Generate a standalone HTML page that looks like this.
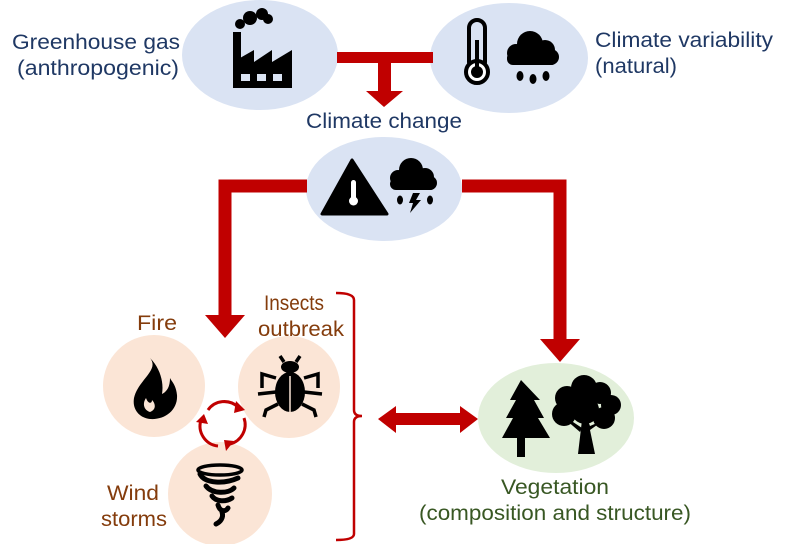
<!DOCTYPE html>
<html><head><meta charset="utf-8"><style>
html,body{margin:0;padding:0;background:#fff;}
svg{display:block;}
text{font-family:"Liberation Sans",Arial,sans-serif;font-size:21px;}
.b{fill:#1f3864}.r{fill:#843c0c}.g{fill:#385723}
</style></head><body>
<svg width="786" height="544" viewBox="0 0 786 544" xmlns="http://www.w3.org/2000/svg">
<ellipse cx="260" cy="55" rx="78" ry="55" fill="#dae3f3"/>
<ellipse cx="509" cy="58" rx="79" ry="55" fill="#dae3f3"/>
<ellipse cx="384" cy="189" rx="78" ry="52" fill="#dae3f3"/>
<rect x="337" y="52" width="96" height="11" fill="#c00000"/>
<rect x="378" y="62" width="13" height="30" fill="#c00000"/>
<polygon points="366,91 403,91 384,107" fill="#c00000"/>
<polyline points="307,186 225,186 225,316" fill="none" stroke="#c00000" stroke-width="13"/>
<polygon points="205,315 245,315 225,338" fill="#c00000"/>
<polyline points="462,186 560,186 560,340" fill="none" stroke="#c00000" stroke-width="13"/>
<polygon points="540,339 580,339 560,362" fill="#c00000"/>
<text x="12" y="49" class="b" textLength="168" lengthAdjust="spacingAndGlyphs">Greenhouse gas</text>
<text x="17" y="75" class="b" textLength="162" lengthAdjust="spacingAndGlyphs">(anthropogenic)</text>
<text x="595" y="47" class="b" textLength="178" lengthAdjust="spacingAndGlyphs">Climate variability</text>
<text x="595" y="73" class="b" textLength="82" lengthAdjust="spacingAndGlyphs">(natural)</text>
<text x="306" y="128" class="b" textLength="156" lengthAdjust="spacingAndGlyphs">Climate change</text>
<g fill="#000">
<rect x="233" y="32" width="8" height="56"/>
<polygon points="233,88 233,62 254,50 254,62 272,50 272,62 292,50 292,88"/>
<rect x="241" y="74" width="9" height="7" fill="#dae3f3"/>
<rect x="257" y="74" width="9" height="7" fill="#dae3f3"/>
<rect x="273" y="74" width="9" height="7" fill="#dae3f3"/>
<circle cx="240" cy="24" r="5"/><circle cx="250" cy="18" r="7"/><circle cx="262" cy="14" r="6"/><circle cx="268" cy="19" r="5"/>
</g>
<g>
<rect x="469" y="20" width="16" height="50" rx="8" fill="none" stroke="#000" stroke-width="4"/>
<circle cx="477" cy="72" r="11" fill="#fff" stroke="#000" stroke-width="4"/>
<circle cx="477" cy="72" r="6" fill="#000"/>
<rect x="475" y="40" width="4" height="30" fill="#000"/>
</g>
<g fill="#000">
<circle cx="516" cy="53" r="9"/><circle cx="530" cy="44" r="13"/><circle cx="545" cy="50" r="10"/><circle cx="551" cy="57" r="8"/>
<rect x="507" y="52" width="50" height="13" rx="6"/>
<ellipse cx="520" cy="76" rx="3.5" ry="5"/><ellipse cx="533" cy="79" rx="3.5" ry="5"/><ellipse cx="546" cy="76" rx="3.5" ry="5"/>
</g>
<polygon points="352,160 322,214 387,214" fill="#000" stroke="#000" stroke-width="3" stroke-linejoin="round"/>
<rect x="351" y="180" width="5" height="20" rx="2.5" fill="#fff"/>
<circle cx="353.5" cy="201" r="4.5" fill="#fff"/>
<g fill="#000">
<circle cx="398" cy="178" r="8"/><circle cx="411" cy="170" r="12"/><circle cx="425" cy="177" r="9"/><circle cx="430" cy="183" r="7"/>
<rect x="390" y="178" width="46" height="12" rx="6"/>
<ellipse cx="400" cy="200" rx="3" ry="4.5"/><ellipse cx="430" cy="200" rx="3" ry="4.5"/>
<polygon points="413,193 420,193 416,200 421,200 410,213 413,203 409,203"/>
</g>
<circle cx="154" cy="386" r="51" fill="#fbe5d6"/>
<circle cx="289" cy="387" r="51" fill="#fbe5d6"/>
<circle cx="220" cy="494" r="52" fill="#fbe5d6"/>
<path d="M150,358 C160,370 138,380 134,398 C132,410 140,418 150,419 C165,420 178,410 177,395 C176,385 172,382 170,378 C170,388 166,392 162,394 C164,382 160,368 150,358 Z M150,412 C144,410 142,404 146,398 C148,404 152,404 152,400 C156,404 156,410 150,412 Z" fill="#000"/>
<g fill="#000" stroke="#000">
<ellipse cx="290" cy="392" rx="15" ry="20" stroke="none"/>
<ellipse cx="290" cy="367" rx="9" ry="6" stroke="none"/>
<path d="M284,362 L280,356 M296,362 L300,356 M276,378 L262,374 L262,388 M304,378 L318,374 L318,388 M276,392 L258,394 M304,392 L322,394 M278,404 L266,410 L264,417 M302,404 L314,410 L316,417" fill="none" stroke-width="3.5"/>
<line x1="290" y1="376" x2="290" y2="412" stroke="#fbe5d6" stroke-width="1.5"/>
</g>
<g fill="none" stroke="#000" stroke-width="5" stroke-linecap="round">
<ellipse cx="220" cy="470" rx="22" ry="5" stroke-width="3.5"/>
<path d="M200,474 C205,484 225,484 238,478"/>
<path d="M206,486 C212,494 228,494 234,488"/>
<path d="M212,496 C216,502 226,502 232,498"/>
<path d="M218,505 C220,512 226,512 228,508"/>
<path d="M222,512 C224,518 220,522 216,524"/>
</g>
<g fill="none" stroke="#c00000" stroke-width="3">
<path d="M208,410 A20,20 0 0 1 238,407"/>
<path d="M244,418 A20,20 0 0 1 230,444"/>
<path d="M218,446 A20,20 0 0 1 201,420"/>
</g>
<g fill="#c00000">
<polygon points="236,401 245,410 234,413"/>
<polygon points="234,441 226,451 224,440"/>
<polygon points="196,422 204,414 208,424"/>
</g>
<text x="137" y="330" class="r" textLength="40" lengthAdjust="spacingAndGlyphs">Fire</text>
<text x="264" y="310" class="r" textLength="60" lengthAdjust="spacingAndGlyphs">Insects</text>
<text x="258" y="336" class="r" textLength="86" lengthAdjust="spacingAndGlyphs">outbreak</text>
<text x="107" y="500" class="r" textLength="52" lengthAdjust="spacingAndGlyphs">Wind</text>
<text x="101" y="526" class="r" textLength="66" lengthAdjust="spacingAndGlyphs">storms</text>
<path d="M336,293 Q354,293 354,300 L354,410 Q354,416 362,416 Q354,416 354,422 L354,534 Q354,540 336,540" fill="none" stroke="#c00000" stroke-width="2.5"/>
<polygon points="378,419 396,406 396,413 460,413 460,406 478,419 460,433 460,425 396,425 396,433" fill="#c00000"/>
<ellipse cx="556" cy="418" rx="78" ry="55" fill="#e2efda"/>
<polygon points="521,380 510,400 516,400 506,418 513,418 502,438 517,438 517,457 525,457 525,438 550,438 538,418 544,418 534,400 540,400 521,380" fill="#000"/>
<g fill="#000">
<circle cx="567" cy="398" r="12"/><circle cx="584" cy="388" r="13"/><circle cx="600" cy="393" r="11"/><circle cx="611" cy="405" r="10"/><circle cx="604" cy="418" r="11"/><circle cx="564" cy="414" r="12"/><circle cx="585" cy="410" r="14"/>
<path d="M582,420 L578,454 L595,454 L590,430 L604,420 L590,426 L587,418 Z"/>
<path d="M580,432 L566,420 L570,420 L582,428 Z"/>
</g>
<text x="501" y="494" class="g" textLength="108" lengthAdjust="spacingAndGlyphs">Vegetation</text>
<text x="419" y="520" class="g" textLength="272" lengthAdjust="spacingAndGlyphs">(composition and structure)</text>
</svg>
</body></html>
